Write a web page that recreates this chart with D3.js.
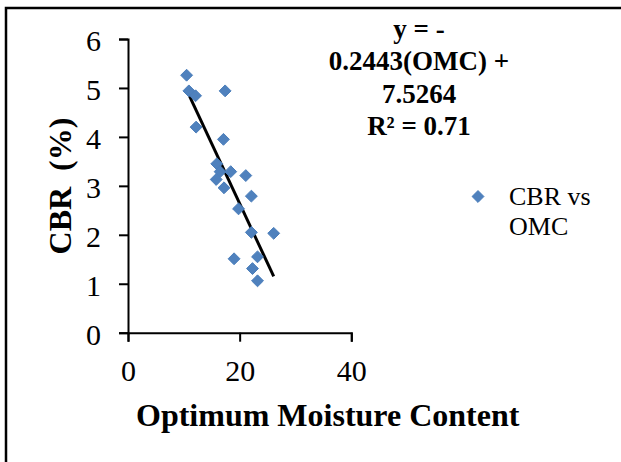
<!DOCTYPE html>
<html><head><meta charset="utf-8">
<script src="https://cdn.jsdelivr.net/npm/d3@7"></script>
<style>
html,body{margin:0;padding:0;background:#fff;}
svg{display:block;}
text{font-family:"Liberation Serif","Times New Roman",serif;}
</style></head>
<body>
<script>
// Data
const omc = [10.5, 10.9, 12.1, 17.4, 12.2, 17.1, 15.9, 16.5, 18.4, 21.1, 15.8, 17.2, 22.1, 19.8, 22.1, 26.1, 19.0, 23.2, 22.3, 23.2];
const cbr = [5.26, 4.94, 4.84, 4.94, 4.20, 3.95, 3.45, 3.29, 3.29, 3.21, 3.13, 2.96, 2.79, 2.53, 2.05, 2.03, 1.51, 1.55, 1.31, 1.06];
const xTicks = [0, 20, 40];
const yTicks = [0, 1, 2, 3, 4, 5, 6];
const slope = -0.2443, intercept = 7.5264;
const eqLines = ["y = -", "0.2443(OMC) +", "7.5264", "R² = 0.71"];
const legendLines = ["CBR vs", "OMC"];
const xTitle = "Optimum Moisture Content";
const yTitle = "CBR  (%)";

const W = 621, H = 462;
const svg = d3.select("body").append("svg").attr("width", W).attr("height", H);

// frame
svg.append("rect").attr("x", 6).attr("y", 8).attr("width", 700).attr("height", 600)
  .attr("fill", "none").attr("stroke", "#000").attr("stroke-width", 2.5);

const x = d3.scaleLinear().domain([0, 40]).range([128, 351.3]);
const y = d3.scaleLinear().domain([0, 6]).range([332.7, 39]);

// axes
const xAxis = svg.append("g").attr("transform", `translate(0,${y(0)})`)
  .call(d3.axisBottom(x).tickValues(xTicks).tickFormat(d3.format("d")).tickSizeOuter(0).tickSize(9).tickPadding(8));
const yAxis = svg.append("g").attr("transform", `translate(${x(0)},0)`)
  .call(d3.axisLeft(y).tickValues(yTicks).tickFormat(d3.format("d")).tickSizeOuter(0).tickSize(9).tickPadding(18));
[xAxis, yAxis].forEach(g => {
  g.select(".domain").attr("stroke", "#000").attr("stroke-width", 2);
  g.selectAll(".tick line").attr("stroke", "#000").attr("stroke-width", 2);
  g.selectAll(".tick text").attr("fill", "#000")
    .style("font-family", '"Liberation Serif","Times New Roman",serif').style("font-size", "30px");
});
yAxis.selectAll(".tick text").attr("dy", "0.38em");
xAxis.selectAll(".tick text").attr("dy", "1.05em");

// trend line
const xs = d3.extent(omc);
svg.append("line")
  .attr("x1", x(xs[0])).attr("y1", y(slope * xs[0] + intercept))
  .attr("x2", x(xs[1])).attr("y2", y(slope * xs[1] + intercept))
  .attr("stroke", "#000").attr("stroke-width", 3);

// points
const sym = d3.symbol().type(d3.symbolDiamond2).size(90);
svg.append("g").selectAll("path").data(omc.map((d, i) => [d, cbr[i]])).join("path")
  .attr("d", sym)
  .attr("transform", d => `translate(${x(d[0])},${y(d[1])})`)
  .attr("fill", "#4F81BD").attr("stroke", "#4A7EBB").attr("stroke-width", 1);

// axis titles
svg.append("text").attr("x", 327.7).attr("y", 426).attr("text-anchor", "middle")
  .style("font-size", "32px").style("font-weight", "bold").text(xTitle);
svg.append("text").attr("transform", "translate(71,186) rotate(-90)").attr("text-anchor", "middle")
  .style("font-size", "32px").style("font-weight", "bold").style("white-space", "pre").text(yTitle);

// equation
svg.append("g").selectAll("text").data(eqLines).join("text")
  .attr("x", 419).attr("y", (d, i) => 38 + i * 32.3).attr("text-anchor", "middle")
  .style("font-size", "27px").style("font-weight", "bold").text(d => d);

// legend
svg.append("path").attr("d", sym).attr("transform", "translate(478,196.5)")
  .attr("fill", "#4F81BD").attr("stroke", "#4A7EBB");
svg.append("g").selectAll("text").data(legendLines).join("text")
  .attr("x", 509).attr("y", (d, i) => 205 + i * 30)
  .style("font-size", "26px").text(d => d);
</script>
</body></html>
